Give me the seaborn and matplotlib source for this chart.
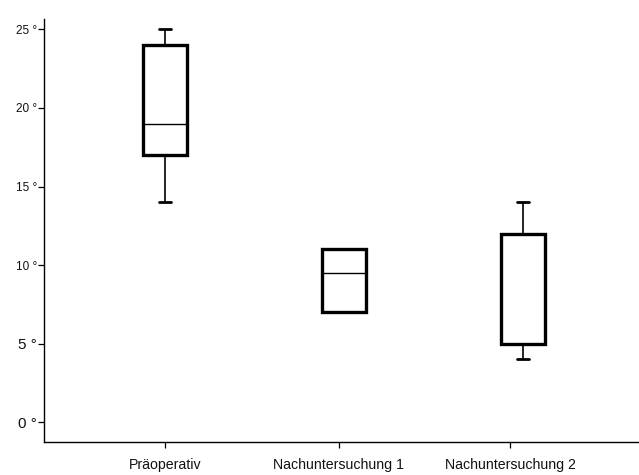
import matplotlib
matplotlib.use("Agg")
import matplotlib.pyplot as plt
import seaborn as sns
import pandas as pd

categories = ["Präoperativ", "Nachuntersuchung 1", "Nachuntersuchung 2"]
praeoperativ = [14, 17, 17, 19, 24, 24, 25]
nachuntersuchung_1 = [7, 7, 7, 9, 10, 11, 11, 11]
nachuntersuchung_2 = [4, 5, 5, 5, 12, 12, 14]
y_ticks = [0, 5, 10, 15, 20, 25]
y_tick_labels = ["0 °", "5 °", "10 °", "15 °", "20 °", "25 °"]

rows = []
for cat, vals in zip(categories, [praeoperativ, nachuntersuchung_1, nachuntersuchung_2]):
    for v in vals:
        rows.append({"Gruppe": cat, "Wert": v})
df = pd.DataFrame(rows)

sns.set_style("ticks")
plt.rcParams["font.family"] = ["Liberation Sans", "DejaVu Sans"]

fig = plt.figure(figsize=(6.39, 4.75), dpi=100)
ax = fig.add_axes([44 / 639, 1 - 441.7 / 475, 1 - 44 / 639, (441.7 - 19.3) / 475])

sns.boxplot(
    data=df, x="Gruppe", y="Wert", order=categories, ax=ax,
    width=0.25, color="white", linecolor="black", fliersize=0, whis=1.5,
    boxprops=dict(linewidth=2.4, edgecolor="black", facecolor="white"),
    medianprops=dict(linewidth=1.0, color="black"),
    whiskerprops=dict(linewidth=1.2, color="black"),
    capprops=dict(linewidth=2.0, color="black"),
    capwidths=0.067,
)

ax.set_xlim(-0.676, 2.648)
ax.set_ylim(-1.23, 25.64)
ax.set_yticks(y_ticks)
ax.set_yticklabels(y_tick_labels)
ax.set_xticks([0, 0.97, 1.93])
ax.set_xticklabels(categories)
ax.set_xlabel("")
ax.set_ylabel("")
for s in ["top", "right"]:
    ax.spines[s].set_visible(False)
for s in ["left", "bottom"]:
    ax.spines[s].set_linewidth(1.0)
    ax.spines[s].set_color("black")
ax.tick_params(axis="both", length=4.5, width=0.9, color="black", labelcolor="#111111")
ax.tick_params(axis="y", pad=0.5)
ax.tick_params(axis="x", pad=7, labelsize=10.2)
for lbl in ax.get_yticklabels():
    if lbl.get_text() in ("0 °", "5 °"):
        lbl.set_fontsize(11)
    else:
        lbl.set_fontsize(8.5)

fig.savefig("out.png", dpi=100)
